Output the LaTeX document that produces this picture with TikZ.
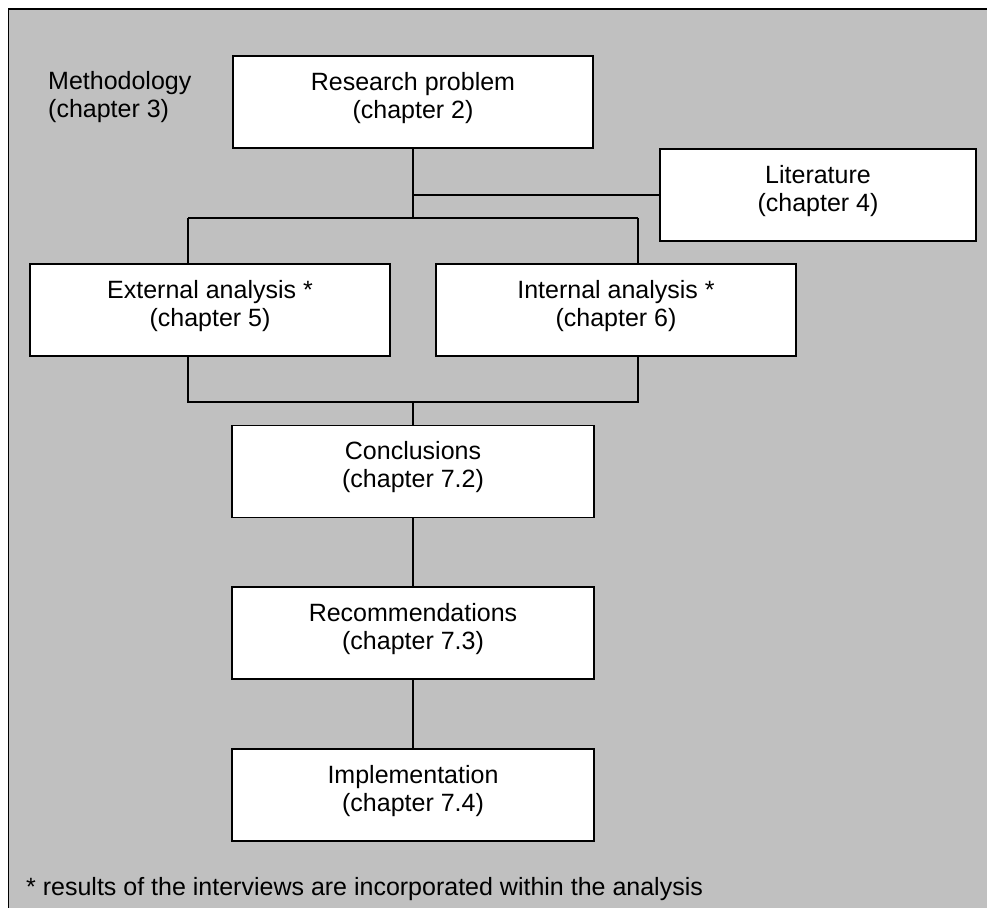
\documentclass[tikz,border=0pt]{standalone}
\usepackage{fontspec}
\setmainfont{Liberation Sans}
\definecolor{panelgray}{RGB}{192,192,192}
\begin{document}
\begin{tikzpicture}[x=1pt,y=-1pt,
  txt/.style={font=\fontsize{25}{28}\selectfont},
  box/.style={draw, fill=white, line width=1.5pt, minimum width=360pt,
    minimum height=92pt, inner sep=0pt, align=center, text depth=14pt,
    txt},
  conn/.style={line width=1.5pt}]
\clip (0,0) rectangle (987,907);
\useasboundingbox (0,0) rectangle (987,907);
\draw[line width=1.5pt, fill=panelgray] (8.5,9) rectangle (1010,930);

\node[txt, anchor=north west, align=left, inner sep=0pt] (meth) at (48,71)
  {Methodology\\(chapter 3)};

\node[box] (rp)   at (413,102)   {Research problem\\(chapter 2)};
\node[box, minimum width=316pt] (lit) at (818,195) {Literature\\(chapter 4)};
\node[box] (ext)  at (210,310)   {External analysis *\\(chapter 5)};
\node[box] (int)  at (616,310)   {Internal analysis *\\(chapter 6)};
\node[box, minimum width=362pt] (con)  at (413,471.5) {Conclusions\\(chapter 7.2)};
\node[box, minimum width=362pt] (rec)  at (413,633)   {Recommendations\\(chapter 7.3)};
\node[box, minimum width=362pt] (imp)  at (413,795)   {Implementation\\(chapter 7.4)};

\node[txt, anchor=base west, inner sep=0pt] (note) at (26,895)
  {* results of the interviews are incorporated within the analysis};

\coordinate (split) at (413,218);
\coordinate (litj)  at (413,195);
\coordinate (sl)    at (188,218);
\coordinate (sr)    at (638,218);
\coordinate (jl)    at (188,402);
\coordinate (jr)    at (638,402);
\coordinate (jm)    at (413,402);

\draw[conn] (rp.south) -- (split);
\draw[conn] (litj) -- (lit.west);
\draw[conn] (sl) -- (sr);
\draw[conn] (sl) -- (sl |- ext.north);
\draw[conn] (sr) -- (sr |- int.north);
\draw[conn] (jl |- ext.south) -- (jl) -- (jr) -- (jr |- int.south);
\draw[conn] (jm) -- (con.north);
\draw[conn] (con.south) -- (rec.north);
\draw[conn] (rec.south) -- (imp.north);
\end{tikzpicture}
\end{document}
